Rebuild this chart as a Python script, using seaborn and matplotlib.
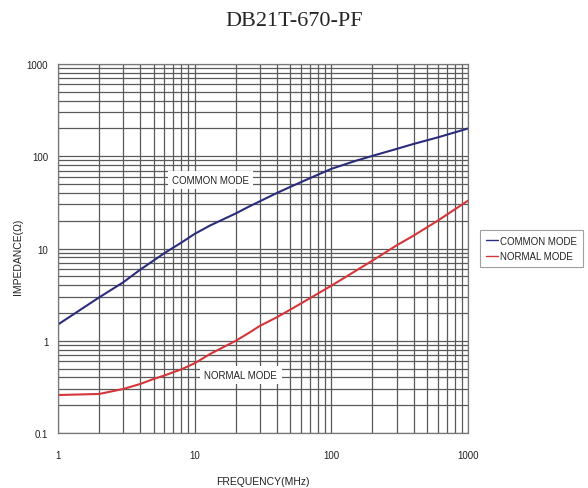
import matplotlib
matplotlib.use("Agg")
import matplotlib.pyplot as plt
import seaborn as sns
import pandas as pd
import numpy as np
from matplotlib.ticker import LogLocator, FixedLocator, NullFormatter

freq_mhz = [1, 2, 3, 4, 5, 6, 8, 10, 13, 20, 25, 30, 40, 50, 70, 100,
            150, 200, 300, 400, 600, 1000]
common_mode = [1.5, 2.95, 4.3, 5.9, 7.4, 8.9, 11.6, 14.4, 17.8, 24, 28.5, 32.5,
               40, 46.5, 58, 73, 89, 101, 120, 136, 160, 200]
normal_mode = [0.258, 0.265, 0.30, 0.34, 0.385, 0.42, 0.49, 0.57, 0.72, 1.0,
               1.22, 1.45, 1.8, 2.17, 2.9, 3.95, 5.7, 7.4, 10.8, 13.8, 20, 33]
series_names = ["COMMON MODE", "NORMAL MODE"]
x_ticks = [1, 10, 100, 1000]
y_ticks = [0.1, 1, 10, 100, 1000]

df = pd.DataFrame({
    "freq": freq_mhz * 2,
    "imp": common_mode + normal_mode,
    "mode": [series_names[0]] * len(freq_mhz) + [series_names[1]] * len(freq_mhz),
})

sns.set_style("white")
plt.rcParams["font.family"] = ["Liberation Sans Narrow", "Liberation Sans", "DejaVu Sans"]

fig = plt.figure(figsize=(5.88, 4.89), dpi=100)
ax = fig.add_axes([58 / 588, 55 / 489, 410 / 588, 369 / 489])

palette = {series_names[0]: "#2b2d7c", series_names[1]: "#d4363a"}
sns.lineplot(data=df, x="freq", y="imp", hue="mode", palette=palette, ax=ax,
             linewidth=1.5, legend=True)
ax.set_xscale("log")
ax.set_yscale("log")
ax.set_xlim(1, 1000)
ax.set_ylim(0.1, 1000)

ax.xaxis.set_major_locator(FixedLocator(x_ticks))
ax.yaxis.set_major_locator(FixedLocator(y_ticks))
ax.set_xticklabels([f"{t:g}" for t in x_ticks])
ax.set_yticklabels([f"{t:g}" for t in y_ticks])
ax.xaxis.set_minor_locator(LogLocator(base=10, subs=np.arange(2, 10)))
ax.yaxis.set_minor_locator(LogLocator(base=10, subs=np.arange(2, 10)))
ax.xaxis.set_minor_formatter(NullFormatter())
ax.yaxis.set_minor_formatter(NullFormatter())
ax.grid(True, which="both", color="#5a5a5a", linewidth=0.9)
ax.set_axisbelow(True)
ax.tick_params(axis="both", which="both", length=0, labelsize=7, colors="#222222")
ax.tick_params(axis="x", pad=12)
ax.tick_params(axis="y", pad=7)
for s in ax.spines.values():
    s.set_color("#777777")
    s.set_linewidth(0.9)

ax.set_xlabel("FREQUENCY(MHz)", fontsize=7.5, labelpad=12, color="#222222")
ax.set_ylabel("IMPEDANCE(Ω)", fontsize=7.5, color="#222222")
ax.yaxis.set_label_coords(-0.085, 0.48)

ax.text(13, 55.7, "COMMON MODE", fontsize=7, ha="center", va="center", color="#222222",
        bbox=dict(facecolor="white", edgecolor="none", pad=3))
ax.text(21.8, 0.425, "NORMAL MODE", fontsize=7, ha="center", va="center", color="#222222",
        bbox=dict(facecolor="white", edgecolor="none", pad=3))

leg = ax.legend(loc="center left", bbox_to_anchor=(1.03, 0.5), frameon=True,
                fontsize=7, handlelength=1.2, handletextpad=0.2,
                borderpad=0.6, labelspacing=0.6, fancybox=False, borderaxespad=0)
leg.get_frame().set_edgecolor("#888888")
leg.get_frame().set_linewidth(0.8)
for t in leg.get_texts():
    t.set_color("#222222")
for line in leg.get_lines():
    line.set_linewidth(1.0)

fig.text(0.5, 1 - 22 / 489, "DB21T-670-PF", ha="center", va="center",
         fontsize=16, family=["Liberation Serif", "DejaVu Serif"])

fig.savefig("out.png", dpi=100)
